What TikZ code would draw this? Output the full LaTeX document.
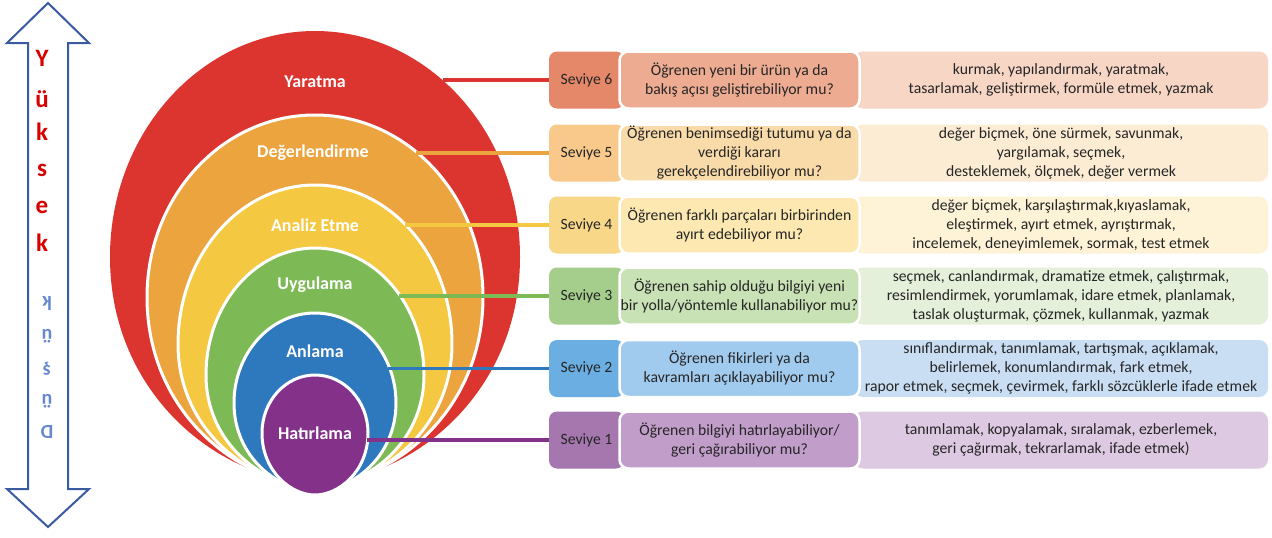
\documentclass[tikz,border=0pt]{standalone}
\usepackage{fontspec}
\setmainfont{Carlito}
\begin{document}
\begin{tikzpicture}[x=1pt,y=-1pt,
  lvl/.style={font=\bfseries\fontsize{18}{21}\selectfont, text=white},
  sev/.style={rectangle, rounded corners=8pt, minimum width=75pt, minimum height=57pt, inner sep=0pt, text=black!85, font=\fontsize{15.7}{19}\selectfont},
  que/.style={rectangle, rounded corners=9pt, minimum width=240pt, minimum height=57pt, inner sep=0pt, draw=white, line width=2.5pt, align=center, text=black!85, font=\fontsize{15.7}{19}\selectfont},
  vrb/.style={rectangle, rounded corners=9pt, minimum width=414pt, minimum height=57pt, inner sep=0pt, align=center, text=black!85, font=\fontsize{15.7}{19}\selectfont},
  conn/.style={line width=3.5pt},
  up/.style={text=red!85!black, font=\bfseries\fontsize{25}{25}\selectfont},
  down/.style={text=dnblue, font=\bfseries\fontsize{20}{20}\selectfont, rotate=180}]
\definecolor{cRed}{HTML}{DC3530}
\definecolor{cOra}{HTML}{EBA43E}
\definecolor{cYel}{HTML}{F5C842}
\definecolor{cGre}{HTML}{7DB954}
\definecolor{cBlu}{HTML}{2E78BE}
\definecolor{cPur}{HTML}{84318A}
\definecolor{arrowblue}{HTML}{3A5BA0}
\definecolor{dnblue}{HTML}{6688D2}
\definecolor{s6a}{HTML}{E5886A}\definecolor{s6b}{HTML}{EDAB92}\definecolor{s6c}{HTML}{F8D6C6}
\definecolor{s5a}{HTML}{F8C98B}\definecolor{s5b}{HTML}{F9DAA9}\definecolor{s5c}{HTML}{FDECD4}
\definecolor{s4a}{HTML}{F8D888}\definecolor{s4b}{HTML}{FCE8B0}\definecolor{s4c}{HTML}{FEF3D6}
\definecolor{s3a}{HTML}{A5CD8C}\definecolor{s3b}{HTML}{C8E1B5}\definecolor{s3c}{HTML}{E4F0DA}
\definecolor{s2a}{HTML}{6BAEE2}\definecolor{s2b}{HTML}{A1CBEE}\definecolor{s2c}{HTML}{C9DEF3}
\definecolor{s1a}{HTML}{A677AE}\definecolor{s1b}{HTML}{C19DC9}\definecolor{s1c}{HTML}{DEC9E3}
\useasboundingbox[fill=white] (0,0) rectangle (1272,538);
% egg shapes: #1 style, #2 top, #3 widest y, #4 half width, #5 bottom
\newcommand\eggdraw[5]{%
  \filldraw[#1] (315,#2) .. controls ({315+0.552*#4},#2) and ({315+#4},{#3-0.552*(#3-#2)}) .. ({315+#4},#3)
   .. controls ({315+#4},{#3+0.62*(#5-#3)}) and ({315+0.45*#4},#5) .. (315,#5)
   .. controls ({315-0.45*#4},#5) and ({315-#4},{#3+0.62*(#5-#3)}) .. ({315-#4},#3)
   .. controls ({315-#4},{#3-0.552*(#3-#2)}) and ({315-0.552*#4},#2) .. (315,#2) -- cycle;}
\eggdraw{fill=cRed,draw=none}{31}{257}{205}{482}
\eggdraw{fill=cOra,draw=white,line width=3pt}{115}{297}{168}{484}
\eggdraw{fill=cYel,draw=white,line width=3pt}{185}{344}{137}{486}
\eggdraw{fill=cGre,draw=white,line width=3pt}{248}{375}{109}{488}
\eggdraw{fill=cBlu,draw=white,line width=3pt}{313}{403}{81}{491}
\eggdraw{fill=cPur,draw=white,line width=3pt}{375}{433}{53}{495}
% level labels
\node[lvl] (l6) at (315,82) {Yaratma};
\node[lvl] (l5) at (313,153) {Değerlendirme};
\node[lvl] (l4) at (315,225) {Analiz Etme};
\node[lvl] (l3) at (315,285) {Uygulama};
\node[lvl] (l2) at (315,351) {Anlama};
\node[lvl] (l1) at (315,433) {Hatırlama};
% edge points of shapes
\coordinate (e6) at (443,80);
\coordinate (e5) at (416,153);
\coordinate (e4) at (405,225);
\coordinate (e3) at (399,296);
\coordinate (e2) at (388,368.5);
\coordinate (e1) at (367,440);
% boxes
\foreach \i/\y in {6/80,5/153,4/225,3/296,2/368.5,1/440}{
  \node[sev, fill=s\i a] (s\i) at (586.5,\y) {Seviye \i};
}
\node[vrb, fill=s6c] (v6) at (1061,80) {kurmak, yapılandırmak, yaratmak,\\tasarlamak, geliştirmek, formüle etmek, yazmak};
\node[vrb, fill=s5c] (v5) at (1061,153) {değer biçmek, öne sürmek, savunmak,\\yargılamak, seçmek,\\desteklemek, ölçmek, değer vermek};
\node[vrb, fill=s4c] (v4) at (1061,225) {değer biçmek, karşılaştırmak,kıyaslamak,\\eleştirmek, ayırt etmek, ayrıştırmak,\\incelemek, deneyimlemek, sormak, test etmek};
\node[vrb, fill=s3c] (v3) at (1061,296) {seçmek, canlandırmak, dramatize etmek, çalıştırmak,\\resimlendirmek, yorumlamak, idare etmek, planlamak,\\taslak oluşturmak, çözmek, kullanmak, yazmak};
\node[vrb, fill=s2c] (v2) at (1061,368.5) {sınıflandırmak, tanımlamak, tartışmak, açıklamak,\\belirlemek, konumlandırmak, fark etmek,\\rapor etmek, seçmek, çevirmek, farklı sözcüklerle ifade etmek};
\node[vrb, fill=s1c] (v1) at (1061,440) {tanımlamak, kopyalamak, sıralamak, ezberlemek,\\geri çağırmak, tekrarlamak, ifade etmek)};
\node[que, fill=s6b] (q6) at (739.5,80) {Öğrenen yeni bir ürün ya da\\bakış açısı geliştirebiliyor mu?};
\node[que, fill=s5b] (q5) at (739.5,153) {Öğrenen benimsediği tutumu ya da\\verdiği kararı\\gerekçelendirebiliyor mu?};
\node[que, fill=s4b] (q4) at (739.5,225) {Öğrenen farklı parçaları birbirinden\\ayırt edebiliyor mu?};
\node[que, fill=s3b] (q3) at (739.5,296) {Öğrenen sahip olduğu bilgiyi yeni\\bir yolla/yöntemle kullanabiliyor mu?};
\node[que, fill=s2b] (q2) at (739.5,368.5) {Öğrenen fikirleri ya da\\kavramları açıklayabiliyor mu?};
\node[que, fill=s1b] (q1) at (739.5,440) {Öğrenen bilgiyi hatırlayabiliyor/\\geri çağırabiliyor mu?};
% connectors
\draw[conn, cRed] (e6) -- (s6.west);
\draw[conn, cOra] (e5) -- (s5.west);
\draw[conn, cYel] (e4) -- (s4.west);
\draw[conn, cGre] (e3) -- (s3.west);
\draw[conn, cBlu] (e2) -- (s2.west);
\draw[conn, cPur] (e1) -- (s1.west);
% double arrow
\draw[arrowblue, line width=2pt, fill=white, line join=miter]
  (48,3) -- (89,43) -- (68,43) -- (68,489) -- (89,489) -- (48,527) -- (7,489) -- (28,489) -- (28,43) -- (7,43) -- cycle;
\node[up] (y1) at (42,58) {Y};
\node[up] (y2) at (42,99) {ü};
\node[up] (y3) at (42,132) {k};
\node[up] (y4) at (42,170) {s};
\node[up] (y5) at (42,207) {e};
\node[up] (y6) at (42,243) {k};
\node[down] (d5) at (47,304) {k};
\node[down] (d4) at (47,336) {ü};
\node[down] (d3) at (47,369) {ş};
\node[down] (d2) at (47,401) {ü};
\node[down] (d1) at (47,432) {D};
\end{tikzpicture}
\end{document}
